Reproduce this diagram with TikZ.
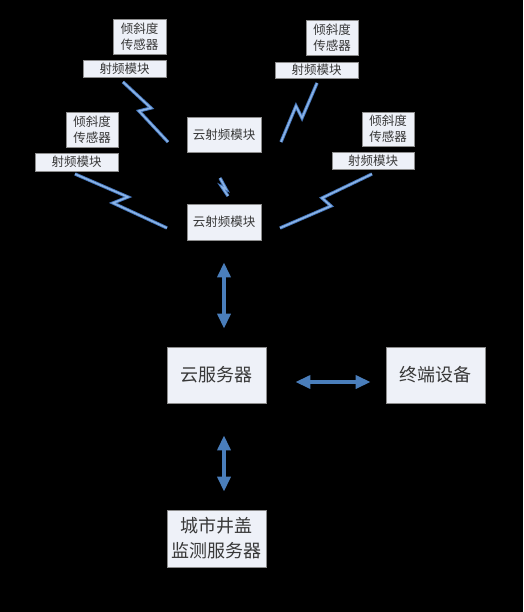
\documentclass[tikz,border=0pt]{standalone}
\usepackage{fontspec}
\newfontfamily\cjk{Noto Sans CJK SC}
\usetikzlibrary{arrows.meta,positioning,calc}
\usepackage{xcolor}
\definecolor{boxfill}{RGB}{238,241,248}
\definecolor{boxline}{RGB}{140,140,140}
\definecolor{txtgray}{RGB}{56,56,56}
\definecolor{arrowblue}{RGB}{74,126,187}
\definecolor{boltdark}{RGB}{70,120,190}
\definecolor{boltlight}{RGB}{140,180,230}

\tikzset{
  box/.style={draw=boxline, fill=boxfill, line width=0.8pt, text=txtgray,
    inner sep=0pt, align=center, font=\cjk\fontsize{12.5}{16}\selectfont},
  bigbox/.style={box, minimum width=99pt, minimum height=56pt,
    font=\cjk\fontsize{18}{25}\selectfont},
  bolt/.style={draw=boltdark, double=boltlight, double distance=1.5pt,
    line width=0.9pt, line join=miter},
  link/.style={arrowblue, line width=3.5pt,
    {Triangle[width=13pt,length=15pt]}-{Triangle[width=13pt,length=15pt]}}
}

\begin{document}
\begin{tikzpicture}[x=1pt, y=-1pt]
    \fill[black] (0,0) rectangle (523,612);
    \useasboundingbox (0,0) rectangle (523,612);

    % Sensor groups
    \node[box, minimum width=53pt, minimum height=35pt] (tltilt) at (139.5,36.5) {倾斜度\\传感器};
    \node[box, minimum width=83pt, minimum height=17pt] (tlrf) at (124.5,68.5) {射频模块};
    \node[box, minimum width=52pt, minimum height=35pt] (trtilt) at (332,37.5) {倾斜度\\传感器};
    \node[box, minimum width=83pt, minimum height=16pt] (trrf) at (316.5,70) {射频模块};
    \node[box, minimum width=52pt, minimum height=35pt] (mltilt) at (92,129.5) {倾斜度\\传感器};
    \node[box, minimum width=83pt, minimum height=18pt] (mlrf) at (76.5,162) {射频模块};
    \node[box, minimum width=52pt, minimum height=34pt] (mrtilt) at (388,129) {倾斜度\\传感器};
    \node[box, minimum width=82pt, minimum height=17pt] (mrrf) at (373,160.5) {射频模块};

    % Cloud RF modules
    \node[box, minimum width=74pt, minimum height=35pt] (cloudA) at (224,134.5) {云射频模块};
    \node[box, minimum width=74pt, minimum height=36pt] (cloudB) at (224,222) {云射频模块};

    % Servers
    \node[bigbox] (server) at (216.5,375) {云服务器};
    \node[bigbox] (terminal) at (435.5,375) {终端设备};
    \node[bigbox, minimum height=57pt] (city) at (216.5,538.5) {城市井盖\\监测服务器};

    % Wireless links
    \coordinate (tlfrom) at (123,82);   \coordinate (tlto) at (168,142);
    \coordinate (trfrom) at (317,83);   \coordinate (trto) at (281,142);
    \coordinate (mlfrom) at (75,174);   \coordinate (mlto) at (167,228);
    \coordinate (mrfrom) at (372,174);  \coordinate (mrto) at (280,228);
    \coordinate (cloudfrom) at (220,178); \coordinate (cloudto) at (228,196);
    \draw[bolt] (tlfrom) -- (151,108) -- (139,111) -- (tlto);
    \draw[bolt] (trfrom) -- (302,118) -- (296,106) -- (trto);
    \draw[bolt] (mlfrom) -- (128,197) -- (113,203) -- (mlto);
    \draw[bolt] (mrfrom) -- (322,198) -- (331,206) -- (mrto);
    \draw[bolt] (cloudfrom) -- (226,189) -- (222,187) -- (cloudto);

    % Wired links
    \draw[link, shorten <=22pt, shorten >=18pt] (cloudB.south) -- (cloudB.south |- server.north);
    \draw[link, shorten <=29pt, shorten >=15pt] ([yshift=-7pt]server.east) -- ([yshift=-7pt]terminal.west);
    \draw[link, shorten <=32pt, shorten >=18pt] (cloudB.south |- server.south) -- (cloudB.south |- city.north);
\end{tikzpicture}
\end{document}
